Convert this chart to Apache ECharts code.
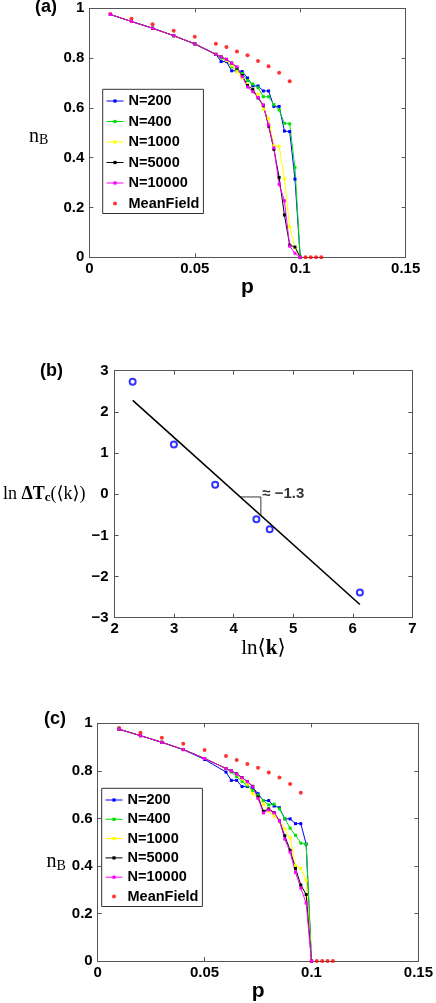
<!DOCTYPE html>
<html>
<head>
<meta charset="utf-8">
<script src="https://cdn.jsdelivr.net/npm/echarts@6/dist/echarts.min.js"></script>
<style>
html, body { margin: 0; padding: 0; background: #fff; }
#chart { width: 436px; height: 1003px; }
</style>
</head>
<body>
<div id="chart"></div>
<script>
// p grid used by the simulations (panels a and c)
var pGrid = [0.01, 0.02, 0.03, 0.04, 0.05, 0.06, 0.0625, 0.065, 0.0675, 0.07, 0.0725, 0.075,
    0.0775, 0.08, 0.0825, 0.085, 0.0875, 0.09, 0.0925, 0.095, 0.0975, 0.1];

// panel (a)
var nA200 = [0.975, 0.947, 0.92, 0.89, 0.857, 0.815, 0.786, 0.786, 0.749, 0.749, 0.746, 0.72, 0.688, 0.688, 0.668, 0.668, 0.606, 0.606, 0.507, 0.505, 0.314, 0];
var nA400 = [0.975, 0.947, 0.92, 0.89, 0.857, 0.815, 0.80, 0.79, 0.765, 0.75, 0.738, 0.71, 0.696, 0.681, 0.645, 0.645, 0.613, 0.592, 0.538, 0.536, 0.361, 0];
var nA1000 = [0.975, 0.947, 0.92, 0.89, 0.857, 0.815, 0.805, 0.79, 0.77, 0.745, 0.72, 0.695, 0.675, 0.655, 0.594, 0.558, 0.448, 0.446, 0.315, 0.123, 0.04, 0];
var nA5000 = [0.975, 0.947, 0.92, 0.89, 0.857, 0.815, 0.805, 0.795, 0.78, 0.76, 0.73, 0.69, 0.674, 0.64, 0.61, 0.527, 0.434, 0.321, 0.17, 0.049, 0.041, 0];
var nA10000 = [0.975, 0.947, 0.92, 0.89, 0.857, 0.815, 0.805, 0.795, 0.78, 0.765, 0.725, 0.684, 0.665, 0.642, 0.612, 0.531, 0.44, 0.293, 0.227, 0.045, 0.016, 0];

// panel (c)
var nC200 = [0.975, 0.948, 0.92, 0.889, 0.848, 0.795, 0.76, 0.76, 0.734, 0.734, 0.73, 0.704, 0.675, 0.675, 0.652, 0.645, 0.598, 0.598, 0.578, 0.578, 0.492, 0];
var nC400 = [0.975, 0.948, 0.92, 0.89, 0.852, 0.81, 0.795, 0.776, 0.756, 0.738, 0.718, 0.698, 0.675, 0.657, 0.66, 0.64, 0.6, 0.559, 0.529, 0.496, 0.492, 0];
var nC1000 = [0.975, 0.948, 0.92, 0.89, 0.852, 0.81, 0.80, 0.785, 0.765, 0.745, 0.704, 0.685, 0.66, 0.63, 0.61, 0.59, 0.556, 0.518, 0.401, 0.39, 0.34, 0];
var nC5000 = [0.975, 0.948, 0.92, 0.89, 0.852, 0.81, 0.80, 0.788, 0.772, 0.755, 0.735, 0.69, 0.63, 0.64, 0.625, 0.59, 0.527, 0.466, 0.39, 0.32, 0.28, 0];
var nC10000 = [0.975, 0.948, 0.92, 0.89, 0.852, 0.81, 0.80, 0.786, 0.771, 0.754, 0.733, 0.684, 0.623, 0.636, 0.623, 0.59, 0.513, 0.458, 0.373, 0.307, 0.244, 0];

// mean field
var pMF = [0.01, 0.02, 0.03, 0.04, 0.05, 0.06, 0.065, 0.07, 0.075, 0.08, 0.085, 0.09, 0.095, 0.1, 0.1025, 0.105, 0.1075, 0.11];
var nMFa = [0.977, 0.958, 0.936, 0.910, 0.886, 0.858, 0.845, 0.827, 0.811, 0.788, 0.767, 0.741, 0.707, 0, 0, 0, 0, 0];
var nMFc = [0.98, 0.96, 0.939, 0.914, 0.888, 0.862, 0.846, 0.829, 0.813, 0.793, 0.772, 0.745, 0.708, 0, 0, 0, 0, 0];

// panel (b)
var lnK = [2.303, 2.996, 3.689, 4.382, 4.605, 6.12];
var lnDTc = [2.73, 1.21, 0.23, -0.61, -0.85, -2.39];
var fitX = [2.305, 6.12];
var fitY = [2.28, -2.68];
var triX = [4.11, 4.457, 4.457];
var triY = [-0.067, -0.067, -0.517];
var slopeText = '≈ −1.3';

var names = ['N=200', 'N=400', 'N=1000', 'N=5000', 'N=10000', 'MeanField'];
var colors = ['#0000ff', '#00e000', '#ffff00', '#000000', '#ff00ff', '#ff0000'];

var boldFont = 'Liberation Sans, Arial, Helvetica, sans-serif';
var serifFont = 'Liberation Serif, DejaVu Serif, serif';
var axisColor = '#555';

function pairs(xs, ys) {
    var out = [];
    for (var i = 0; i < xs.length; i++) out.push([xs[i], ys[i]]);
    return out;
}

function xAx(grid, min, max, interval, top, extra) {
    var a = {
        type: 'value', gridIndex: grid, min: min, max: max, interval: interval,
        position: top ? 'top' : 'bottom',
        axisLine: { show: true, onZero: false, lineStyle: { color: axisColor, width: 1 } },
        axisTick: { show: true, inside: true, length: 4, lineStyle: { color: axisColor } },
        axisLabel: { show: !top, color: '#000', fontFamily: boldFont, fontWeight: 'bold', fontSize: 15, margin: 4 },
        splitLine: { show: false }
    };
    return Object.assign(a, extra || {});
}
function yAx(grid, min, max, interval, right, extra) {
    var a = {
        type: 'value', gridIndex: grid, min: min, max: max, interval: interval,
        position: right ? 'right' : 'left',
        axisLine: { show: true, onZero: false, lineStyle: { color: axisColor, width: 1 } },
        axisTick: { show: true, inside: true, length: 4, lineStyle: { color: axisColor } },
        axisLabel: { show: !right, color: '#000', fontFamily: boldFont, fontWeight: 'bold', fontSize: 15, margin: 5 },
        splitLine: { show: false }
    };
    return Object.assign(a, extra || {});
}

var pName = { name: 'p', nameLocation: 'middle',
    nameTextStyle: { fontFamily: boldFont, fontWeight: 'bold', fontSize: 21, lineHeight: 21, color: '#000' } };
var nbRich = {
    n: { fontFamily: serifFont, fontSize: 20, color: '#000' },
    s: { fontFamily: serifFont, fontSize: 14, color: '#000', padding: [8, 0, 0, 0] }
};

function simSeries(grid, arrs, mf) {
    var out = [];
    for (var i = 0; i < arrs.length; i++) {
        out.push({
            name: names[i], type: 'line', xAxisIndex: grid * 2, yAxisIndex: grid * 2,
            data: pairs(pGrid, arrs[i]),
            symbol: 'rect', symbolSize: 3, showSymbol: true,
            lineStyle: { width: 1, color: colors[i] },
            itemStyle: { color: colors[i] }
        });
    }
    out.push({
        name: names[5], type: 'scatter', xAxisIndex: grid * 2, yAxisIndex: grid * 2,
        data: pairs(pMF, mf), symbol: 'circle', symbolSize: 4,
        itemStyle: { color: colors[5] }
    });
    return out;
}

function legendAt(left, top, gap) {
    return {
        left: left, top: top, orient: 'vertical', data: names,
        itemWidth: 17, itemHeight: 4, itemGap: gap, selectedMode: false,
        padding: [3.7, 4, 2, 3.3],
        lineStyle: { width: 1 },
        backgroundColor: '#fff', borderColor: '#333', borderWidth: 1,
        textStyle: { fontFamily: boldFont, fontWeight: 'bold', fontSize: 14.5, lineHeight: 16, color: '#000' }
    };
}

var chart = echarts.init(document.getElementById('chart'), null, { renderer: 'canvas' });

var option = {
    animation: false,
    backgroundColor: '#fff',
    grid: [
        { left: 89.3, top: 8.3, width: 316.4, height: 249 },
        { left: 96, top: 370.7, width: 316.3, height: 247 },
        { left: 97.7, top: 723.3, width: 324, height: 247.7 }
    ],
    xAxis: [
        xAx(0, 0, 0.15, 0.05, false, Object.assign({ nameGap: 2 }, pName)),
        xAx(0, 0, 0.15, 0.05, true),
        xAx(1, 2, 7, 1, false, {
            name: '{r|ln⟨}{b|k}{r|⟩}', nameLocation: 'middle', nameGap: 20,
            nameTextStyle: { rich: {
                r: { fontFamily: serifFont, fontSize: 21, color: '#000' },
                b: { fontFamily: serifFont, fontSize: 21, fontWeight: 'bold', color: '#000' }
            } }
        }),
        xAx(1, 2, 7, 1, true),
        xAx(2, 0, 0.15, 0.05, false, Object.assign({ nameGap: -1 }, pName)),
        xAx(2, 0, 0.15, 0.05, true)
    ],
    yAxis: [
        yAx(0, 0, 1, 0.2, false, {
            name: '{n|n}{s|B}', nameLocation: 'middle', nameRotate: 0, nameGap: 41,
            nameTextStyle: { rich: nbRich, padding: [8, 0, 0, 0] }
        }),
        yAx(0, 0, 1, 0.2, true),
        yAx(1, -3, 3, 1, false, {
            axisLabel: { color: '#000', fontFamily: boldFont, fontWeight: 'bold', fontSize: 15, margin: 6,
                formatter: function (v) { return String(v).replace('-', '−'); } },
            name: '{r|ln }{b|ΔT}{s|c}{r|(⟨k⟩)}', nameLocation: 'middle', nameRotate: 0, nameGap: 14,
            nameTextStyle: { rich: {
                r: { fontFamily: serifFont, fontSize: 18, color: '#000' },
                b: { fontFamily: serifFont, fontSize: 18, fontWeight: 'bold', color: '#000' },
                s: { fontFamily: serifFont, fontSize: 13, fontWeight: 'bold', color: '#000', padding: [7, 0, 0, 0] }
            } }
        }),
        yAx(1, -3, 3, 1, true),
        yAx(2, 0, 1, 0.2, false, {
            name: '{n|n}{s|B}', nameLocation: 'middle', nameRotate: 0, nameGap: 31,
            nameTextStyle: { rich: nbRich, padding: [40, 0, 0, 0] }
        }),
        yAx(2, 0, 1, 0.2, true)
    ],
    legend: [
        legendAt(102.7, 89.3, 4.5),
        legendAt(101.7, 788.3, 3.3)
    ],
    graphic: [
        { type: 'text', left: 35, top: -2, style: { text: '(a)', font: 'bold 18px ' + boldFont, fill: '#000' } },
        { type: 'text', left: 40, top: 362, style: { text: '(b)', font: 'bold 18px ' + boldFont, fill: '#000' } },
        { type: 'text', left: 44, top: 710, style: { text: '(c)', font: 'bold 18px ' + boldFont, fill: '#000' } }
    ],
    series: []
        .concat(simSeries(0, [nA200, nA400, nA1000, nA5000, nA10000], nMFa))
        .concat(simSeries(2, [nC200, nC400, nC1000, nC5000, nC10000], nMFc))
        .concat([
            {
                type: 'line', xAxisIndex: 2, yAxisIndex: 2, data: pairs(fitX, fitY),
                showSymbol: false, symbol: 'none', lineStyle: { color: '#000', width: 1.6 }
            },
            {
                type: 'line', xAxisIndex: 2, yAxisIndex: 2, data: pairs(triX, triY),
                showSymbol: false, symbol: 'none', lineStyle: { color: '#000', width: 0.8 }
            },
            {
                type: 'scatter', xAxisIndex: 2, yAxisIndex: 2, data: pairs(lnK, lnDTc),
                symbol: 'emptyCircle', symbolSize: 6,
                itemStyle: { color: '#0000ff', borderColor: '#0000ff', borderWidth: 1.5 }
            },
            {
                type: 'scatter', xAxisIndex: 2, yAxisIndex: 2, data: [[4.48, 0]],
                symbolSize: 0, silent: true,
                label: { show: true, position: 'right', distance: 0, formatter: slopeText,
                    fontFamily: boldFont, fontWeight: 'bold', fontSize: 15, color: '#000' }
            }
        ])
};

chart.setOption(option);
</script>
</body>
</html>
